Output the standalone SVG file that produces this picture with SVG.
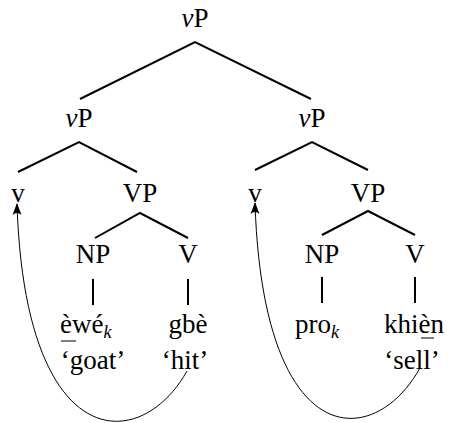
<svg xmlns="http://www.w3.org/2000/svg" width="450" height="423" viewBox="0 0 450 423" font-family="Liberation Serif, Times New Roman, serif">
<style>
text{font-family:'Liberation Serif','Times New Roman',serif;font-size:27px;fill:#000}
.m{text-anchor:middle}
.i{font-style:italic}
.s{font-style:italic;font-size:18px}
.e{stroke:#000;stroke-width:2;fill:none}
.c{stroke:#000;stroke-width:1;fill:none}
.ah{fill:#000}
</style>
<g id="edges">
<path class="e" d="M80,99 L195,42 L311,99"/>
<path class="e" d="M18,172 L79,142 L137,172"/>
<path class="e" d="M255,170 L312,142 L368,170"/>
<path class="e" d="M95,238 L140,213 L188,238"/>
<path class="e" d="M322,235 L368,211 L415,235"/>
<path class="e" d="M93,279 V305 M188,279 V305 M322,277 V303 M415,277 V303"/>
<path class="c" d="M187,371 C140,455 25,455 17,204"/>
<path class="c" d="M420,368 C373,452 263,452 255,203"/>
<path class="ah" d="M17,203 L12.5,215 Q17,211 21.5,215 Z"/>
<path class="ah" d="M255,202 L250.5,214 Q255,210 259.5,214 Z"/>
<path class="c" d="M61,341 H76 M421,338 H434"/>
</g>
<g id="n-top"><text class="m" x="195" y="27"><tspan class="i">v</tspan>P</text></g>
<g id="n-vp1"><text class="m" x="79" y="127"><tspan class="i">v</tspan>P</text></g>
<g id="n-vp2"><text class="m" x="312" y="127"><tspan class="i">v</tspan>P</text></g>
<g id="n-v1"><text class="m" x="18" y="202">v</text></g>
<g id="n-VP1"><text class="m" x="140" y="202">VP</text></g>
<g id="n-v2"><text class="m" x="255" y="202">v</text></g>
<g id="n-VP2"><text class="m" x="368" y="202">VP</text></g>
<g id="n-NP1"><text class="m" x="93" y="263">NP</text></g>
<g id="n-V1"><text class="m" x="188" y="263">V</text></g>
<g id="n-NP2"><text class="m" x="322" y="263">NP</text></g>
<g id="n-V2"><text class="m" x="415" y="263">V</text></g>
<g id="n-ewe"><text x="60" y="333">èwé<tspan class="s" dy="5">k</tspan></text><text class="m" x="93" y="369">‘goat’</text></g>
<g id="n-gbe"><text class="m" x="188" y="333">gbè</text><text class="m" x="185" y="369">‘hit’</text></g>
<g id="n-pro"><text x="295" y="333">pro<tspan class="s" dy="5">k</tspan></text></g>
<g id="n-khien"><text class="m" x="414" y="333">khièn</text><text class="m" x="412" y="369">‘sell’</text></g>
</svg>
